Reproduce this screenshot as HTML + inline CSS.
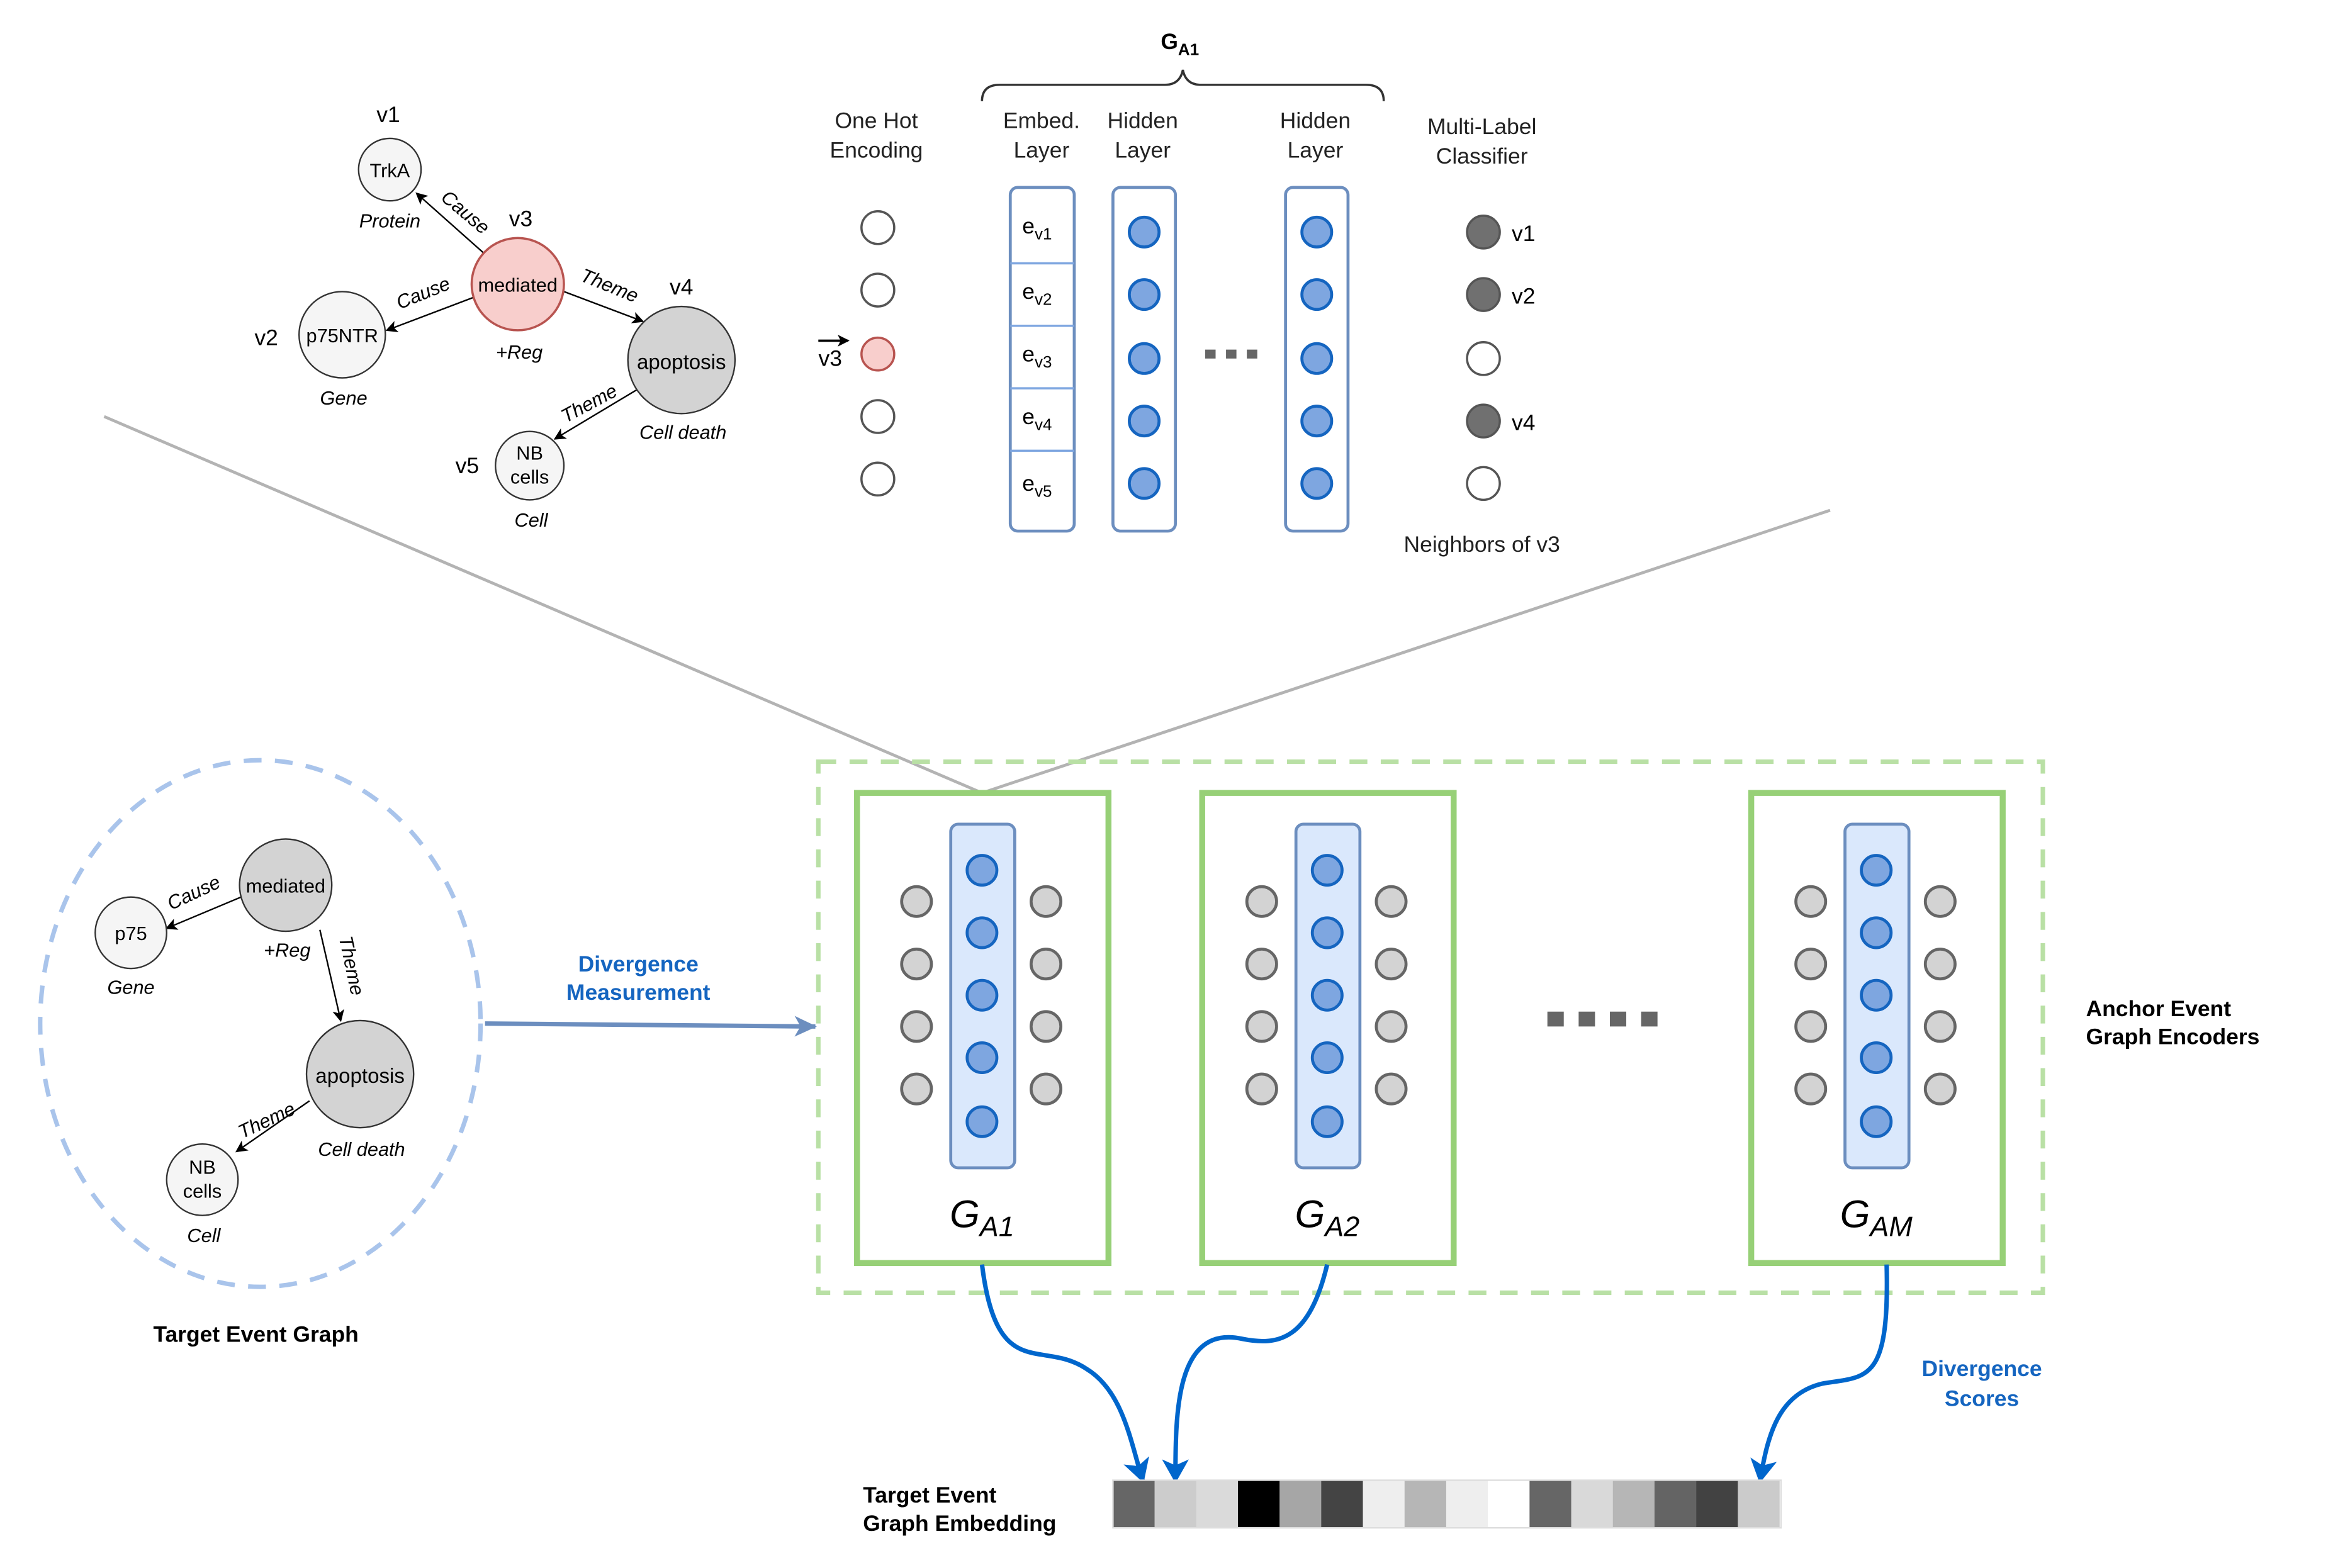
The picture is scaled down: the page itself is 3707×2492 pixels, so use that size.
<!DOCTYPE html>
<html><head><meta charset="utf-8"><style>html,body{margin:0;padding:0;background:#fff}svg{display:block}</style></head>
<body>
<svg xmlns="http://www.w3.org/2000/svg" width="3707" height="2492" viewBox="0 0 1568 1054" preserveAspectRatio="none" font-family="Liberation Sans, Arial, sans-serif">
<defs>
<marker id="a" markerWidth="8" markerHeight="8" refX="7" refY="4" orient="auto" markerUnits="userSpaceOnUse"><path d="M0,0 L8,4 L0,8 L2,4 z" fill="#000"/></marker>
<marker id="b" markerWidth="16" markerHeight="16" refX="14" refY="8" orient="auto" markerUnits="userSpaceOnUse"><path d="M0,1 L15,8 L0,15 L4,8 z" fill="#6c8ebf"/></marker>
<marker id="c" markerWidth="16" markerHeight="18" refX="14" refY="9" orient="auto" markerUnits="userSpaceOnUse"><path d="M0,0 L16,9 L0,18 L4,9 z" fill="#0066cc"/></marker>
</defs>
<rect width="1568" height="1054" fill="#fff"/>
<line x1="70" y1="280" x2="660" y2="533" stroke="#b3b3b3" stroke-width="2"/>
<line x1="1230" y1="343" x2="660" y2="533" stroke="#b3b3b3" stroke-width="2"/>

<g font-size="14" text-anchor="middle">
<line x1="325" y1="170" x2="280" y2="130" stroke="#000" marker-end="url(#a)"/>
<line x1="318" y1="200" x2="260" y2="222" stroke="#000" marker-end="url(#a)"/>
<line x1="379" y1="196" x2="432" y2="216" stroke="#000" marker-end="url(#a)"/>
<line x1="428" y1="262" x2="373" y2="295" stroke="#000" marker-end="url(#a)"/>
<circle cx="262" cy="114" r="21" fill="#f5f5f5" stroke="#333"/>
<text x="262" y="119" font-size="13">TrkA</text>
<circle cx="348" cy="191" r="31" fill="#f8cecc" stroke="#b85450" stroke-width="1.5"/>
<text x="348" y="196" font-size="13">mediated</text>
<circle cx="230" cy="225" r="29" fill="#f5f5f5" stroke="#333"/>
<text x="230" y="230" font-size="13">p75NTR</text>
<circle cx="458" cy="242" r="36" fill="#d3d3d3" stroke="#333"/>
<text x="458" y="248" font-size="14">apoptosis</text>
<circle cx="356" cy="313" r="23" fill="#f5f5f5" stroke="#333"/>
<text x="356" y="309" font-size="13">NB</text><text x="356" y="325" font-size="13">cells</text>
<text x="261" y="82" font-size="15">v1</text>
<text x="350" y="152" font-size="15">v3</text>
<text x="179" y="232" font-size="15">v2</text>
<text x="458" y="198" font-size="15">v4</text>
<text x="314" y="318" font-size="15">v5</text>
<g font-style="italic" font-size="13">
<text x="262" y="153">Protein</text>
<text x="349" y="241">+Reg</text>
<text x="231" y="272">Gene</text>
<text x="459" y="295">Cell death</text>
<text x="357" y="354">Cell</text>
<text transform="translate(310,146) rotate(40)">Cause</text>
<text transform="translate(286,201) rotate(-22)">Cause</text>
<text transform="translate(408,196) rotate(22)">Theme</text>
<text transform="translate(398,275) rotate(-28)">Theme</text>
</g>
</g>

<text x="793" y="33" font-size="15" font-weight="bold" text-anchor="middle">G<tspan font-size="11" dy="4">A1</tspan></text>
<path d="M660,68 Q660,57 672,57 L783,57 Q793,57 795,47 Q797,57 807,57 L918,57 Q930,57 930,68" fill="none" stroke="#333" stroke-width="1.5"/>

<g font-size="15" text-anchor="middle" fill="#222">
<text x="589" y="86">One Hot</text><text x="589" y="106">Encoding</text>
<text x="700" y="86">Embed.</text><text x="700" y="106">Layer</text>
<text x="768" y="86">Hidden</text><text x="768" y="106">Layer</text>
<text x="884" y="86">Hidden</text><text x="884" y="106">Layer</text>
<text x="996" y="90">Multi-Label</text><text x="996" y="110">Classifier</text>
<text x="996" y="371">Neighbors of v3</text>
</g>

<g stroke="#555" stroke-width="1.5" fill="#fff">
<circle cx="590" cy="153" r="11"/><circle cx="590" cy="195" r="11"/>
<circle cx="590" cy="238" r="11" fill="#f8cecc" stroke="#b85450"/>
<circle cx="590" cy="280" r="11"/><circle cx="590" cy="322" r="11"/>
</g>
<line x1="550" y1="229" x2="570" y2="229" stroke="#000" stroke-width="1.5" marker-end="url(#a)"/>
<text x="558" y="246" font-size="15" text-anchor="middle">v3</text>

<rect x="679" y="126" width="43" height="231" rx="5" fill="#fff" stroke="#6c8ebf" stroke-width="2"/>
<g stroke="#7ea6e0" stroke-width="1.5">
<line x1="679" y1="177" x2="722" y2="177"/><line x1="679" y1="219" x2="722" y2="219"/>
<line x1="679" y1="261" x2="722" y2="261"/><line x1="679" y1="303" x2="722" y2="303"/>
</g>
<g font-size="15" text-anchor="middle">
<text x="697" y="157">e<tspan font-size="11" dy="4">v1</tspan></text>
<text x="697" y="201">e<tspan font-size="11" dy="4">v2</tspan></text>
<text x="697" y="243">e<tspan font-size="11" dy="4">v3</tspan></text>
<text x="697" y="285">e<tspan font-size="11" dy="4">v4</tspan></text>
<text x="697" y="330">e<tspan font-size="11" dy="4">v5</tspan></text>
</g>
<rect x="748" y="126" width="42" height="231" rx="5" fill="#fff" stroke="#6c8ebf" stroke-width="2"/>
<rect x="864" y="126" width="42" height="231" rx="5" fill="#fff" stroke="#6c8ebf" stroke-width="2"/>
<g fill="#7ea6e0" stroke="#1565c0" stroke-width="2">
<circle cx="769" cy="156" r="10"/><circle cx="769" cy="198" r="10"/><circle cx="769" cy="241" r="10"/><circle cx="769" cy="283" r="10"/><circle cx="769" cy="325" r="10"/>
<circle cx="885" cy="156" r="10"/><circle cx="885" cy="198" r="10"/><circle cx="885" cy="241" r="10"/><circle cx="885" cy="283" r="10"/><circle cx="885" cy="325" r="10"/>
</g>
<g fill="#666"><rect x="810" y="235" width="7" height="6"/><rect x="824" y="235" width="7" height="6"/><rect x="838" y="235" width="7" height="6"/></g>

<g stroke="#555" stroke-width="1.5">
<circle cx="997" cy="156" r="11" fill="#707070"/><circle cx="997" cy="198" r="11" fill="#707070"/>
<circle cx="997" cy="241" r="11" fill="#fff"/><circle cx="997" cy="283" r="11" fill="#707070"/>
<circle cx="997" cy="325" r="11" fill="#fff"/>
</g>
<g font-size="15"><text x="1016" y="162">v1</text><text x="1016" y="204">v2</text><text x="1016" y="289">v4</text></g>

<ellipse cx="175" cy="688" rx="148" ry="177" fill="none" stroke="#a9c4eb" stroke-width="3" stroke-dasharray="12,9"/>
<g font-size="14" text-anchor="middle">
<line x1="162" y1="603" x2="112" y2="624" stroke="#000" marker-end="url(#a)"/>
<line x1="215" y1="625" x2="229" y2="686" stroke="#000" marker-end="url(#a)"/>
<line x1="208" y1="740" x2="159" y2="774" stroke="#000" marker-end="url(#a)"/>
<circle cx="192" cy="595" r="31" fill="#d3d3d3" stroke="#333"/><text x="192" y="600" font-size="13">mediated</text>
<circle cx="88" cy="627" r="24" fill="#f5f5f5" stroke="#333"/><text x="88" y="632" font-size="13">p75</text>
<circle cx="242" cy="722" r="36" fill="#d3d3d3" stroke="#333"/><text x="242" y="728">apoptosis</text>
<circle cx="136" cy="793" r="24" fill="#f5f5f5" stroke="#333"/><text x="136" y="789" font-size="13">NB</text><text x="136" y="805" font-size="13">cells</text>
<g font-style="italic" font-size="13">
<text x="193" y="643">+Reg</text><text x="88" y="668">Gene</text><text x="243" y="777">Cell death</text><text x="137" y="835">Cell</text>
<text transform="translate(132,604) rotate(-25)">Cause</text>
<text transform="translate(232,650) rotate(78)">Theme</text>
<text transform="translate(181,757) rotate(-25)">Theme</text>
</g>
</g>
<text x="172" y="902" font-size="15" font-weight="bold" text-anchor="middle">Target Event Graph</text>

<line x1="326" y1="688" x2="548" y2="690" stroke="#6c8ebf" stroke-width="3" marker-end="url(#b)"/>
<g font-size="15" font-weight="bold" fill="#1565c0" text-anchor="middle">
<text x="429" y="653">Divergence</text><text x="429" y="672">Measurement</text>
</g>

<rect x="550" y="512" width="823" height="357" fill="none" stroke="#b9e0a5" stroke-width="3" stroke-dasharray="12,9"/>
<g id="enc">
<rect x="576" y="533" width="169" height="316" fill="#fff" stroke="#97d077" stroke-width="4"/>
<rect x="639" y="554" width="43" height="231" rx="5" fill="#dae8fc" stroke="#6c8ebf" stroke-width="2"/>
<g fill="#7ea6e0" stroke="#1565c0" stroke-width="2">
<circle cx="660" cy="585" r="10"/><circle cx="660" cy="627" r="10"/><circle cx="660" cy="669" r="10"/><circle cx="660" cy="711" r="10"/><circle cx="660" cy="754" r="10"/>
</g>
<g fill="#d3d3d3" stroke="#666" stroke-width="2">
<circle cx="616" cy="606" r="10"/><circle cx="616" cy="648" r="10"/><circle cx="616" cy="690" r="10"/><circle cx="616" cy="732" r="10"/>
<circle cx="703" cy="606" r="10"/><circle cx="703" cy="648" r="10"/><circle cx="703" cy="690" r="10"/><circle cx="703" cy="732" r="10"/>
</g>
</g>
<use href="#enc" x="232"/>
<use href="#enc" x="601"/>
<g font-size="26" font-style="italic" text-anchor="middle">
<text x="660" y="825">G<tspan font-size="19" dy="6">A1</tspan></text>
<text x="892" y="825">G<tspan font-size="19" dy="6">A2</tspan></text>
<text x="1261" y="825">G<tspan font-size="19" dy="6">AM</tspan></text>
</g>
<g fill="#666"><rect x="1040" y="680" width="11" height="10"/><rect x="1061" y="680" width="11" height="10"/><rect x="1082" y="680" width="11" height="10"/><rect x="1103" y="680" width="11" height="10"/></g>
<g font-size="15" font-weight="bold"><text x="1402" y="683">Anchor Event</text><text x="1402" y="702">Graph Encoders</text></g>

<g fill="none" stroke="#0066cc" stroke-width="3">
<path d="M660,850 C670,930 700,900 730,920 C755,935 760,970 768,995" marker-end="url(#c)"/>
<path d="M892,850 C880,900 860,905 835,900 C790,890 790,950 790,995" marker-end="url(#c)"/>
<path d="M1268,850 C1270,930 1255,925 1225,930 C1195,937 1188,965 1183,995" marker-end="url(#c)"/>
</g>
<g font-size="15" font-weight="bold" fill="#1565c0" text-anchor="middle"><text x="1332" y="925">Divergence</text><text x="1332" y="945">Scores</text></g>

<g>
<rect x="748" y="995" width="28.1" height="32" fill="#666"/>
<rect x="776" y="995" width="28.1" height="32" fill="#ccc"/>
<rect x="804" y="995" width="28.1" height="32" fill="#dadada"/>
<rect x="832" y="995" width="28.1" height="32" fill="#000"/>
<rect x="860" y="995" width="28.1" height="32" fill="#a6a6a6"/>
<rect x="888" y="995" width="28.1" height="32" fill="#444"/>
<rect x="916" y="995" width="28.1" height="32" fill="#eee"/>
<rect x="944" y="995" width="28.1" height="32" fill="#b6b6b6"/>
<rect x="972" y="995" width="28.1" height="32" fill="#eee"/>
<rect x="1000" y="995" width="28.1" height="32" fill="#fff"/>
<rect x="1028" y="995" width="28.1" height="32" fill="#666"/>
<rect x="1056" y="995" width="28.1" height="32" fill="#d9d9d9"/>
<rect x="1084" y="995" width="28.1" height="32" fill="#b6b6b6"/>
<rect x="1112" y="995" width="28.1" height="32" fill="#646464"/>
<rect x="1140" y="995" width="28.1" height="32" fill="#424242"/>
<rect x="1168" y="995" width="28.1" height="32" fill="#cbcbcb"/>
<rect x="748" y="995" width="449" height="32" fill="none" stroke="#ddd"/>
</g>
<g font-size="15" font-weight="bold"><text x="580" y="1010">Target Event</text><text x="580" y="1029">Graph Embedding</text></g>
</svg>
</body></html>
